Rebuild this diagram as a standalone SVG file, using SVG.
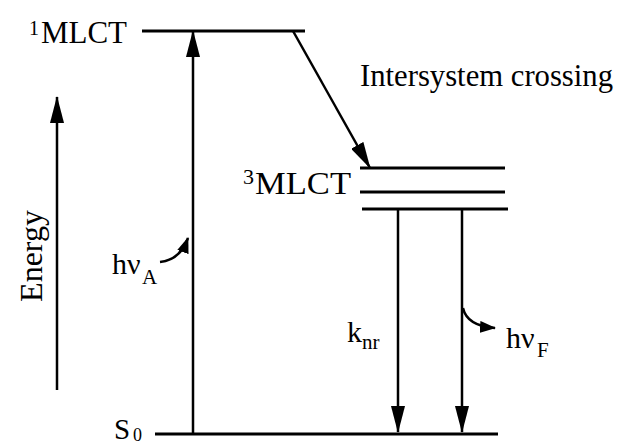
<svg xmlns="http://www.w3.org/2000/svg" width="629" height="446" viewBox="0 0 629 446">
<style>
.lv{stroke:#000;stroke-width:3;fill:none}
.ar{stroke:#000;stroke-width:2.5;fill:none}
.t{font-family:"Liberation Serif","Times New Roman",serif;fill:#000}
</style>
<defs>
<marker id="big" markerUnits="userSpaceOnUse" markerWidth="27" markerHeight="14" refX="26" refY="7" orient="auto">
<path d="M0,0 L27,7 L0,14 Z" fill="#000"/>
</marker>
<marker id="small" markerUnits="userSpaceOnUse" markerWidth="16" markerHeight="12" refX="15" refY="6" orient="auto">
<path d="M0,0 L16,6 L0,12 Z" fill="#000"/>
</marker>
</defs>
<rect width="629" height="446" fill="#fff"/>
<g id="level-1MLCT">
<line class="lv" x1="142" y1="31" x2="305" y2="31"/>
<text class="t" x="29" y="35" font-size="20">1</text>
<text class="t" x="41" y="43" font-size="32" textLength="86" lengthAdjust="spacingAndGlyphs">MLCT</text>
</g>
<g id="level-3MLCT">
<line class="lv" x1="360" y1="168" x2="505" y2="168"/>
<line class="lv" x1="360" y1="192" x2="505" y2="192"/>
<line class="lv" x1="362" y1="209" x2="508" y2="209"/>
<text class="t" x="243" y="184" font-size="22">3</text>
<text class="t" x="255" y="194" font-size="32" textLength="96" lengthAdjust="spacingAndGlyphs">MLCT</text>
</g>
<g id="level-S0">
<line class="lv" x1="155" y1="434" x2="498" y2="434"/>
<text class="t" x="114" y="439" font-size="29">S</text>
<text class="t" x="133" y="441" font-size="18">0</text>
</g>
<g id="energy-axis">
<line class="ar" x1="57" y1="390" x2="57" y2="97" marker-end="url(#big)"/>
<text class="t" font-size="32" text-anchor="middle" transform="translate(42,256) rotate(-90)">Energy</text>
</g>
<g id="label-isc">
<text class="t" x="360" y="86" font-size="32" textLength="253" lengthAdjust="spacingAndGlyphs">Intersystem crossing</text>
</g>
<g id="connectors">
<line class="ar" x1="193" y1="434" x2="193" y2="31" marker-end="url(#big)"/>
<line class="ar" x1="293" y1="31" x2="370" y2="168" marker-end="url(#big)"/>
<line class="ar" x1="398" y1="209" x2="398" y2="432" marker-end="url(#big)"/>
<line class="ar" x1="462" y1="209" x2="462" y2="432" marker-end="url(#big)"/>
<path class="ar" d="M160,262 Q180,260 188,238" marker-end="url(#small)"/>
<path class="ar" d="M463,308 Q467,326 495,328" marker-end="url(#small)"/>
</g>
<g id="label-hvA">
<text class="t" x="112" y="274" font-size="30">hν</text>
<text class="t" x="142" y="284" font-size="21">A</text>
</g>
<g id="label-knr">
<text class="t" x="347" y="342" font-size="30">k</text>
<text class="t" x="362" y="349" font-size="21">nr</text>
</g>
<g id="label-hvF">
<text class="t" x="506" y="348" font-size="30">hν</text>
<text class="t" x="537" y="357" font-size="21">F</text>
</g>
</svg>
